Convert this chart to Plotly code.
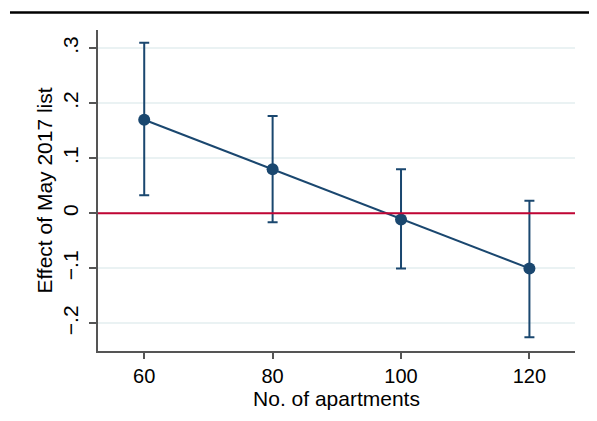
import plotly.graph_objects as go

apartments = [60, 80, 100, 120]
effect = [0.170, 0.080, -0.011, -0.100]
ci_low = [0.033, -0.016, -0.100, -0.225]
ci_high = [0.310, 0.177, 0.080, 0.023]

y_tickvals = [-0.2, -0.1, 0, 0.1, 0.2, 0.3]
y_ticktext = ["\u2212.2", "\u2212.1", "0", ".1", ".2", ".3"]
x_tickvals = [60, 80, 100, 120]

navy = "#1a476f"
font = "Liberation Sans, Arial, Helvetica, sans-serif"

err_plus = [h - e for h, e in zip(ci_high, effect)]
err_minus = [e - l for e, l in zip(effect, ci_low)]

fig = go.Figure()
fig.add_trace(go.Scatter(
    x=apartments, y=effect, mode="lines+markers",
    line=dict(color=navy, width=2),
    marker=dict(color=navy, size=12),
    error_y=dict(type="data", symmetric=False, array=err_plus, arrayminus=err_minus,
                 color=navy, thickness=2, width=5),
    showlegend=False,
))

fig.add_shape(type="line", xref="paper", yref="y", x0=0, x1=1, y0=0, y1=0,
              line=dict(color="#C10534", width=2), layer="above")
fig.add_shape(type="line", xref="paper", yref="paper", x0=-0.1845, x1=1.1,
              y0=1.0545, y1=1.0545, line=dict(color="black", width=2.5))

# page body has an 8px default margin, so the figure is 8px smaller
fig.update_layout(
    width=589, height=413,
    margin=dict(l=90, r=22, t=22, b=70, autoexpand=False),
    paper_bgcolor="white", plot_bgcolor="white",
    font=dict(family=font, size=20, color="black"),
)
fig.update_xaxes(
    range=[52.8, 127.1], tickvals=x_tickvals, automargin=False,
    showgrid=False, zeroline=False,
    showline=True, linecolor="#555555", linewidth=1.5,
    ticks="outside", ticklen=6, tickcolor="#555555", tickwidth=1.5,
    title=dict(text="No. of apartments", standoff=0, font=dict(family=font, size=21)),
    tickfont=dict(family=font, size=20, color="black"),
)
fig.update_yaxes(
    range=[-0.25, 0.333], tickvals=y_tickvals, ticktext=y_ticktext, automargin=False,
    tickangle=-90, ticklabelstandoff=3,
    showgrid=True, gridcolor="#EAF2F3", gridwidth=1.5, zeroline=False,
    showline=True, linecolor="#555555", linewidth=1.5,
    ticks="outside", ticklen=7, tickcolor="#555555", tickwidth=1.5,
    title=dict(text="Effect of May 2017 list", standoff=0, font=dict(family=font, size=21)),
    tickfont=dict(family=font, size=21, color="black"),
)

fig.write_html("out.html")
